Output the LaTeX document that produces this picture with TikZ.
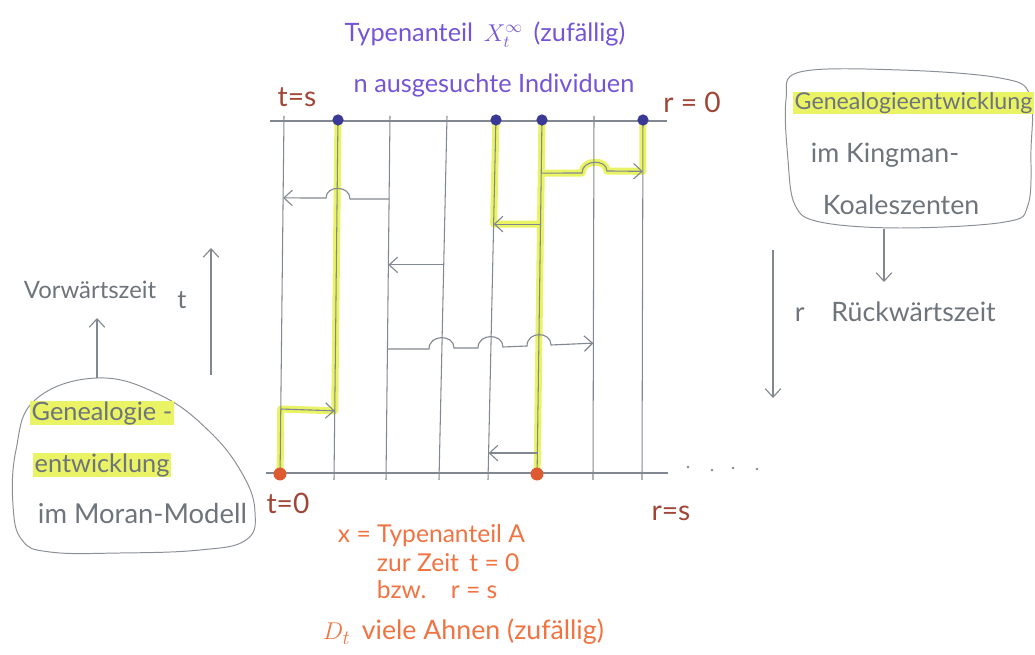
\documentclass[tikz,border=0pt]{standalone}
\usepackage{fontspec}
\setmainfont{Lato}
\usetikzlibrary{arrows.meta,calc}
\definecolor{gridc}{RGB}{130,136,145}
\definecolor{hly}{RGB}{234,243,100}
\definecolor{purp}{RGB}{118,84,214}
\definecolor{dotblue}{RGB}{58,58,150}
\definecolor{dotred}{RGB}{222,90,50}
\definecolor{brn}{RGB}{160,70,55}
\definecolor{orng}{RGB}{240,115,65}
\definecolor{gtxt}{RGB}{110,116,124}
\begin{document}
\begin{tikzpicture}[x=0.025cm,y=-0.025cm,
  gl/.style={draw=gridc,line width=0.75pt},
  garr/.style={draw=gridc,line width=0.8pt,-{Straight Barb[length=6pt,width=11pt,line width=0.8pt]}},
  hlpath/.style={draw=hly,line width=5pt,line join=round,line cap=round},
  ptxt/.style={text=purp,font=\fontsize{18}{21}\selectfont},
  btxt/.style={text=brn,font=\fontsize{20}{23}\selectfont},
  otxt/.style={text=orng,font=\fontsize{17.5}{20}\selectfont,anchor=west},
  gt/.style={text=gtxt,font=\fontsize{18}{21}\selectfont},
  hl/.style={gt,fill=hly,inner xsep=1pt,inner ysep=0.5pt},
]
\useasboundingbox (0,0) rectangle (1035,655);

% line end points
\foreach \i/\xt/\xb in {1/284/280,2/338/334,3/390/386,4/447/439,5/496/488,6/542/537,7/594/593,8/643/642}{
  \coordinate (T\i) at (\xt,116);
  \coordinate (B\i) at (\xb,480);
}
\coordinate (HL0) at (270,121); \coordinate (HR0) at (667,121);
\coordinate (HL1) at (266,473); \coordinate (HR1) at (668,473);

% yellow highlights
\draw[hlpath] ($(T1)!0.981!(B1)$) -- ($(T1)!0.805!(B1)$) -- ($(T2)!0.81!(B2)$) -- ($(T2)!0.0165!(B2)$);
\draw[hlpath] ($(T5)!0.0165!(B5)$) -- ($(T5)!0.297!(B5)$) -- ($(T6)!0.297!(B6)$);
\draw[hlpath] ($(T6)!0.0165!(B6)$) -- ($(T6)!0.981!(B6)$);
\draw[hlpath] ($(T8)!0.0165!(B8)$) -- ($(T8)!0.152!(B8)$) -- (607,171) .. controls (607,159) and (582,159) .. (582,173) -- ($(T6)!0.157!(B6)$);

% grid
\foreach \i in {1,...,8}{ \draw[gl] (T\i) -- (B\i); }
\draw[gl] (HL0) -- (HR0);
\draw[gl] (HL1) -- (HR1);

% arrows
\draw[garr] ($(T3)!0.228!(B3)$) -- (350,199) .. controls (350,185) and (326,185) .. (326,198) -- ($(T1)!0.225!(B1)$);
\draw[garr] ($(T4)!0.409!(B4)$) -- ($(T3)!0.409!(B3)$);
\draw[garr] ($(T6)!0.297!(B6)$) -- ($(T5)!0.297!(B5)$);
\draw[garr] ($(T6)!0.157!(B6)$) -- (582,173) .. controls (582,159) and (607,159) .. (607,171) -- ($(T8)!0.152!(B8)$);
\draw[garr] ($(T3)!0.640!(B3)$) -- (429,349) .. controls (429,334) and (454,334) .. (454,348) -- (478,348) .. controls (478,333) and (503,333) .. (503,347) -- (527,346) .. controls (527,331) and (551,331) .. (551,345) -- ($(T7)!0.624!(B7)$);
\draw[garr] ($(T1)!0.805!(B1)$) -- ($(T2)!0.81!(B2)$);
\draw[garr] ($(T6)!0.926!(B6)$) -- ($(T5)!0.926!(B5)$);

% dots
\foreach \x in {338,496,542,643}{ \fill[dotblue] (\x,120) circle (4pt); }
\foreach \x in {280,537}{ \fill[dotred] (\x,474) circle (4.6pt); }
\foreach \x/\y in {688/467,712/470,733/468,757/469}{ \fill[gridc] (\x,\y) circle (0.9pt); }

% labels
\node[ptxt] (title) at (485,35) {Typenanteil \,$X_t^{\infty}$\, (zufällig)};
\node[ptxt] (sel) at (494,85) {n ausgesuchte Individuen};
\node[btxt] (ts) at (297,97) {t=s};
\node[btxt] (r0) at (692,102) {r = 0};
\node[btxt] (t0) at (288,503) {t=0};
\node[btxt] (rs) at (671,513) {r=s};
\node[otxt] (xa) at (333,536) {x = Typenanteil A};
\node[otxt] (zur) at (372,563) {zur Zeit \,t = 0};
\node[otxt] (bzw) at (372,590) {bzw.\quad r = s};
\node[otxt,font=\fontsize{19}{22}\selectfont] (dt) at (318,632) {$D_t$\, viele Ahnen (zufällig)};

% left side
\node[gt,font=\fontsize{17}{20}\selectfont] (vor) at (90,290) {Vorwärtszeit};
\node[gt] (tt) at (182,300) {t};
\draw[gtxt!80,line width=0.7pt] plot[smooth cycle,tension=0.7] coordinates {(97,378) (160,395) (210,432) (243,475) (255,512) (246,540) (200,550) (120,553) (50,552) (22,540) (13,505) (16,450) (35,400)};
\coordinate (lbt) at (97,378);
\coordinate (vt) at (97,318);
\draw[garr] (lbt) -- (vt);
\coordinate (fw0) at (211,375); \coordinate (fw1) at (211,248);
\draw[garr] (fw0) -- (fw1);
\node[hl,anchor=west] (g1) at (30,413) {Genealogie -};
\node[hl,anchor=west] (g2) at (33,465) {entwicklung};
\node[gt,anchor=west,font=\fontsize{19.5}{22}\selectfont] (g3) at (33,514) {im Moran-Modell};

% right side
\draw[gtxt!80,line width=0.7pt] plot[smooth cycle,tension=0.6] coordinates {(800,72) (900,70) (1000,78) (1030,95) (1031,150) (1028,205) (1005,222) (900,228) (820,222) (795,205) (788,160) (786,100)};
\node[hl,anchor=west,font=\fontsize{16.5}{19}\selectfont] (k1) at (793,103) {Genealogieentwicklung};
\node[gt,anchor=west,font=\fontsize{19}{22}\selectfont] (k2) at (806,155) {im Kingman-};
\node[gt,anchor=west,font=\fontsize{19}{22}\selectfont] (k3) at (818,205) {Koaleszenten};
\coordinate (kb) at (884,229); \coordinate (kt) at (884,282);
\draw[garr] (kb) -- (kt);
\node[gt,anchor=west,font=\fontsize{19}{22}\selectfont] (rw) at (790,312) {r\quad Rückwärtszeit};
\coordinate (bw0) at (773,250); \coordinate (bw1) at (773,398);
\draw[garr] (bw0) -- (bw1);
\end{tikzpicture}
\end{document}
